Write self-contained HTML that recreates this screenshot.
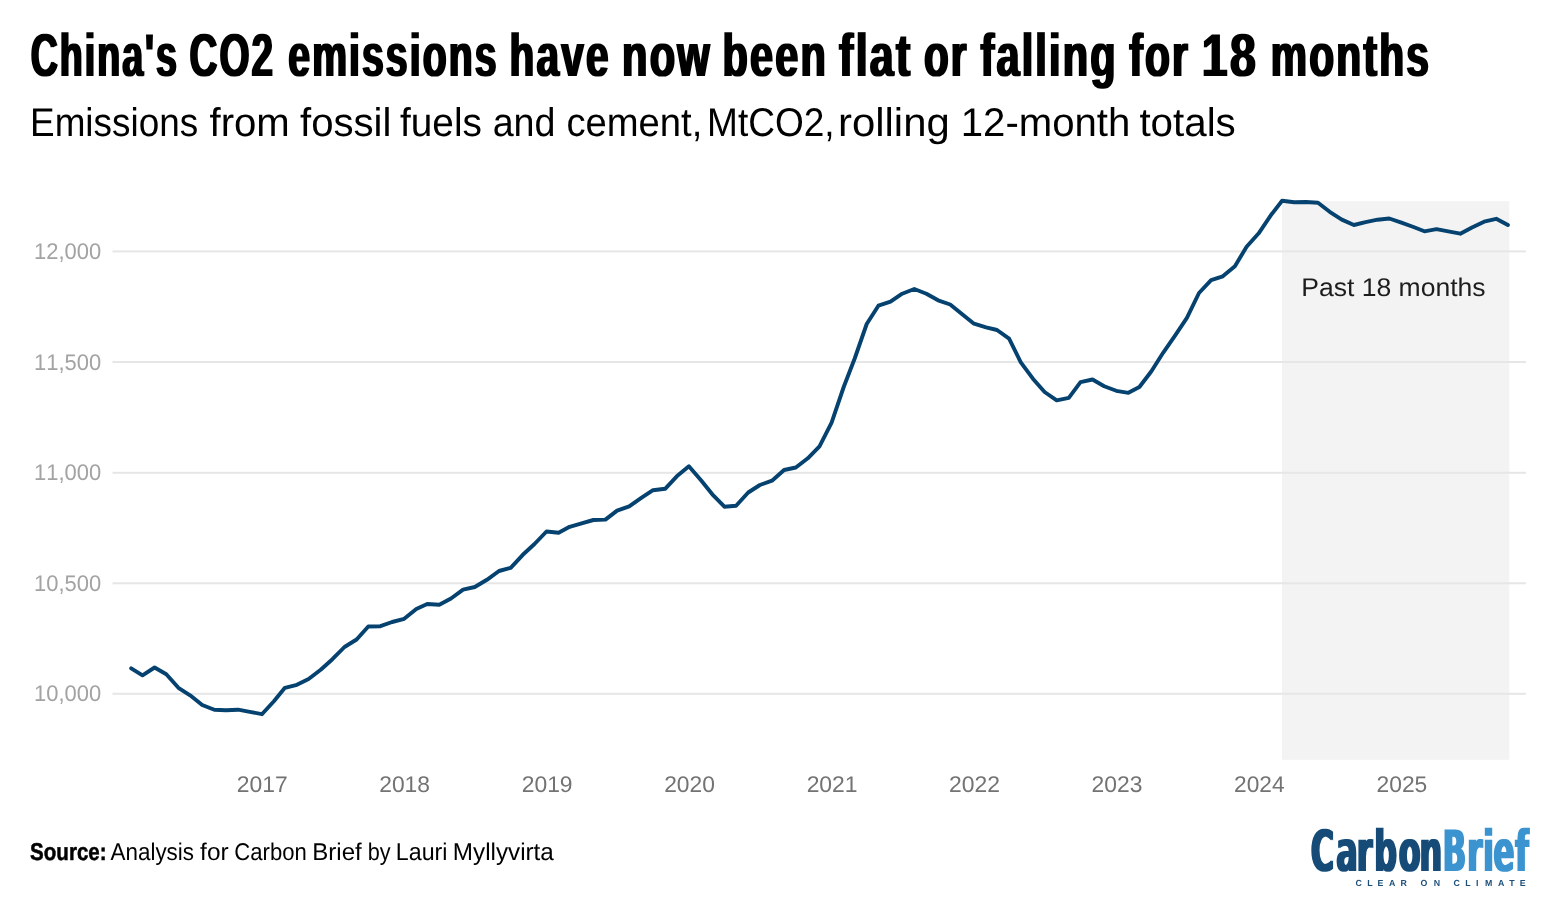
<!DOCTYPE html>
<html lang="en"><head><meta charset="utf-8"><title>China's CO2 emissions have now been flat or falling for 18 months</title>
<style>html,body{margin:0;padding:0;background:#fff}svg{display:block}text{font-kerning:none;font-variant-ligatures:none;text-rendering:geometricPrecision}</style></head>
<body>
<svg width="1560" height="922" viewBox="0 0 1560 922">
<defs><filter id="fat" x="-2%" y="-10%" width="104%" height="120%"><feMorphology operator="dilate" radius="1 0"/></filter></defs>
<rect width="1560" height="922" fill="#fff"/>
<g id="title" filter="url(#fat)">
<text transform="translate(30.75 75.70) scale(0.6208 1)" font-family='"Liberation Sans", sans-serif' font-size="60.5" font-weight="700" fill="#000" letter-spacing="3.2">China's</text>
<text transform="translate(189.45 75.70) scale(0.6387 1)" font-family='"Liberation Sans", sans-serif' font-size="60.5" font-weight="700" fill="#000" letter-spacing="3.2">CO2</text>
<text transform="translate(288.28 75.70) scale(0.6475 1)" font-family='"Liberation Sans", sans-serif' font-size="60.5" font-weight="700" fill="#000" letter-spacing="3.2">emissions</text>
<text transform="translate(509.51 75.70) scale(0.6711 1)" font-family='"Liberation Sans", sans-serif' font-size="60.5" font-weight="700" fill="#000" letter-spacing="3.2">have</text>
<text transform="translate(622.04 75.70) scale(0.6884 1)" font-family='"Liberation Sans", sans-serif' font-size="60.5" font-weight="700" fill="#000" letter-spacing="3.2">now</text>
<text transform="translate(722.56 75.70) scale(0.6853 1)" font-family='"Liberation Sans", sans-serif' font-size="60.5" font-weight="700" fill="#000" letter-spacing="3.2">been</text>
<text transform="translate(839.11 75.70) scale(0.7093 1)" font-family='"Liberation Sans", sans-serif' font-size="60.5" font-weight="700" fill="#000" letter-spacing="3.2">flat</text>
<text transform="translate(923.98 75.70) scale(0.6692 1)" font-family='"Liberation Sans", sans-serif' font-size="60.5" font-weight="700" fill="#000" letter-spacing="3.2">or</text>
<text transform="translate(980.38 75.70) scale(0.6854 1)" font-family='"Liberation Sans", sans-serif' font-size="60.5" font-weight="700" fill="#000" letter-spacing="3.2">falling</text>
<text transform="translate(1129.14 75.70) scale(0.6749 1)" font-family='"Liberation Sans", sans-serif' font-size="60.5" font-weight="700" fill="#000" letter-spacing="3.2">for</text>
<text transform="translate(1201.85 75.70) scale(0.7664 1)" font-family='"Liberation Sans", sans-serif' font-size="60.5" font-weight="700" fill="#000" letter-spacing="3.2">18</text>
<text transform="translate(1270.85 75.70) scale(0.6742 1)" font-family='"Liberation Sans", sans-serif' font-size="60.5" font-weight="700" fill="#000" letter-spacing="3.2">months</text>
</g>
<g id="subtitle">
<text transform="translate(30.05 136.00) scale(0.9220 1)" font-family='"Liberation Sans", sans-serif' font-size="40" fill="#000">Emissions</text>
<text transform="translate(209.50 136.00) scale(1.0026 1)" font-family='"Liberation Sans", sans-serif' font-size="40" fill="#000">from</text>
<text transform="translate(300.00 136.00) scale(1.0028 1)" font-family='"Liberation Sans", sans-serif' font-size="40" fill="#000">fossil</text>
<text transform="translate(400.02 136.00) scale(0.9697 1)" font-family='"Liberation Sans", sans-serif' font-size="40" fill="#000">fuels</text>
<text transform="translate(492.65 136.00) scale(0.9415 1)" font-family='"Liberation Sans", sans-serif' font-size="40" fill="#000">and</text>
<text transform="translate(566.38 136.00) scale(0.9551 1)" font-family='"Liberation Sans", sans-serif' font-size="40" fill="#000">cement,</text>
<text transform="translate(707.04 136.00) scale(0.9256 1)" font-family='"Liberation Sans", sans-serif' font-size="40" fill="#000">MtCO2,</text>
<text transform="translate(838.03 136.00) scale(1.0468 1)" font-family='"Liberation Sans", sans-serif' font-size="40" fill="#000">rolling</text>
<text transform="translate(960.74 136.00) scale(1.0034 1)" font-family='"Liberation Sans", sans-serif' font-size="40" fill="#000">12-month</text>
<text transform="translate(1139.40 136.00) scale(1.0080 1)" font-family='"Liberation Sans", sans-serif' font-size="40" fill="#000">totals</text>
</g>
<g id="chart">
<rect x="1282" y="201.2" width="227.3" height="558.6" fill="#f3f3f3"/>
<rect x="112.5" y="250.4" width="1413.5" height="2" fill="#e6e6e6"/>
<rect x="112.5" y="361.0" width="1413.5" height="2" fill="#e6e6e6"/>
<rect x="112.5" y="471.8" width="1413.5" height="2" fill="#e6e6e6"/>
<rect x="112.5" y="582.3" width="1413.5" height="2" fill="#e6e6e6"/>
<rect x="112.5" y="692.8" width="1413.5" height="2" fill="#e6e6e6"/>
<text transform="translate(34.05 259.00) scale(0.9707 1)" font-family='"Liberation Sans", sans-serif' font-size="22.6" fill="#a3a3a3">12,000</text>
<text transform="translate(34.05 369.60) scale(0.9707 1)" font-family='"Liberation Sans", sans-serif' font-size="22.6" fill="#a3a3a3">11,500</text>
<text transform="translate(34.05 480.40) scale(0.9707 1)" font-family='"Liberation Sans", sans-serif' font-size="22.6" fill="#a3a3a3">11,000</text>
<text transform="translate(34.05 590.90) scale(0.9707 1)" font-family='"Liberation Sans", sans-serif' font-size="22.6" fill="#a3a3a3">10,500</text>
<text transform="translate(34.05 701.40) scale(0.9707 1)" font-family='"Liberation Sans", sans-serif' font-size="22.6" fill="#a3a3a3">10,000</text>
<text transform="translate(236.76 791.70) scale(1.0132 1)" font-family='"Liberation Sans", sans-serif' font-size="22.6" fill="#737373">2017</text>
<text transform="translate(379.23 791.70) scale(1.0096 1)" font-family='"Liberation Sans", sans-serif' font-size="22.6" fill="#737373">2018</text>
<text transform="translate(521.70 791.70) scale(1.0120 1)" font-family='"Liberation Sans", sans-serif' font-size="22.6" fill="#737373">2019</text>
<text transform="translate(664.17 791.70) scale(1.0084 1)" font-family='"Liberation Sans", sans-serif' font-size="22.6" fill="#737373">2020</text>
<text transform="translate(806.64 791.70) scale(1.0132 1)" font-family='"Liberation Sans", sans-serif' font-size="22.6" fill="#737373">2021</text>
<text transform="translate(949.11 791.70) scale(1.0132 1)" font-family='"Liberation Sans", sans-serif' font-size="22.6" fill="#737373">2022</text>
<text transform="translate(1091.58 791.70) scale(1.0108 1)" font-family='"Liberation Sans", sans-serif' font-size="22.6" fill="#737373">2023</text>
<text transform="translate(1234.06 791.70) scale(1.0037 1)" font-family='"Liberation Sans", sans-serif' font-size="22.6" fill="#737373">2024</text>
<text transform="translate(1376.52 791.70) scale(1.0096 1)" font-family='"Liberation Sans", sans-serif' font-size="22.6" fill="#737373">2025</text>
<polyline fill="none" stroke="#05426f" stroke-width="3.9" stroke-linejoin="round" stroke-linecap="round" points="131.2,668.3 142.5,675.3 154.6,667.5 166.3,674.2 178.4,687.8 190.1,695.3 202.2,705.0 214.3,709.8 226.0,710.2 238.1,709.7 249.8,711.8 261.9,714.2 273.9,701.2 284.9,687.8 296.9,684.8 308.6,679.0 320.7,669.7 332.4,659.2 344.5,647.0 356.6,639.5 368.3,626.5 380.4,626.2 392.1,622.0 404.2,618.8 416.3,609.0 427.2,604.0 439.3,604.7 451.0,598.5 463.1,589.7 474.8,587.0 486.9,579.8 499.0,571.0 510.7,567.8 522.8,554.8 534.5,544.0 546.5,531.5 558.6,532.7 569.6,526.8 581.6,523.3 593.4,520.0 605.4,519.6 617.1,510.6 629.2,506.3 641.3,497.8 653.0,490.2 665.1,488.8 676.8,476.3 688.9,466.3 701.0,480.2 712.3,494.3 724.4,506.7 736.1,505.8 748.2,492.5 759.9,485.0 772.0,480.7 784.1,470.0 795.8,467.5 807.8,458.3 819.5,446.3 831.6,422.6 843.7,387.0 854.7,358.5 866.7,324.0 878.4,305.7 890.5,301.7 902.2,293.7 914.3,289.0 926.4,293.7 938.1,300.3 950.2,304.5 961.9,314.0 974.0,323.7 986.1,327.3 997.0,330.0 1009.1,338.7 1020.8,362.3 1032.9,378.7 1044.6,392.0 1056.7,400.3 1068.8,397.8 1080.5,382.2 1092.5,379.5 1104.2,386.2 1116.3,390.8 1128.4,392.8 1139.4,387.0 1151.4,371.2 1163.1,352.8 1175.2,335.3 1186.9,317.9 1199.0,293.0 1211.1,280.2 1222.8,276.3 1234.9,266.3 1246.6,246.7 1258.7,233.3 1270.8,215.3 1282.1,200.8 1294.2,202.3 1305.9,202.0 1318.0,202.8 1329.7,211.8 1341.8,219.6 1353.9,225.0 1365.6,222.1 1377.6,219.7 1389.3,218.5 1401.4,222.6 1413.5,227.0 1424.4,231.3 1436.5,229.1 1448.2,231.3 1460.3,233.7 1472.0,227.5 1484.1,221.7 1496.2,218.8 1507.9,225.0"/>
<text transform="translate(1301.18 295.50) scale(1.0371 1)" font-family='"Liberation Sans", sans-serif' font-size="25.6" fill="#1d1d1d">Past 18 months</text>
</g>
<g id="footer">
<text transform="translate(30.08 859.70) scale(0.8500 1)" font-family='"Liberation Sans", sans-serif' font-size="24.2" font-weight="700" fill="#000" stroke="#000" stroke-width="0.5">Source:</text>
<text transform="translate(110.60 859.70) scale(0.9256 1)" font-family='"Liberation Sans", sans-serif' font-size="24.2" fill="#000">Analysis</text>
<text transform="translate(200.09 859.70) scale(1.0099 1)" font-family='"Liberation Sans", sans-serif' font-size="24.2" fill="#000">for</text>
<text transform="translate(234.29 859.70) scale(0.9133 1)" font-family='"Liberation Sans", sans-serif' font-size="24.2" fill="#000">Carbon</text>
<text transform="translate(312.27 859.70) scale(0.9947 1)" font-family='"Liberation Sans", sans-serif' font-size="24.2" fill="#000">Brief</text>
<text transform="translate(367.65 859.70) scale(0.8951 1)" font-family='"Liberation Sans", sans-serif' font-size="24.2" fill="#000">by</text>
<text transform="translate(395.84 859.70) scale(0.9590 1)" font-family='"Liberation Sans", sans-serif' font-size="24.2" fill="#000">Lauri</text>
<text transform="translate(452.86 859.70) scale(1.0018 1)" font-family='"Liberation Sans", sans-serif' font-size="24.2" fill="#000">Myllyvirta</text>
</g>
<g id="logo">
<g filter="url(#fat)">
<text transform="translate(0 871.00) scale(0.5586 1)" x="2346.53 2391.97 2428.74 2460.31 2503.86 2540.96" font-family='"DejaVu Sans", sans-serif' font-size="57" font-weight="700" fill="#134b78">Carbon</text>
<text transform="translate(0 871.00) scale(0.5386 1)" x="2678.63 2723.99 2753.82 2773.01 2813.34" font-family='"DejaVu Sans", sans-serif' font-size="57" font-weight="700" fill="#3a93d0">Brief</text>
</g>
<text text-anchor="middle" y="886" x="1358.7 1369.9 1380.5 1392.1 1403.8 1413.5 1423.9 1436.9 1446.5 1456.7 1468.0 1477.3 1488.6 1501.2 1512.0 1522.8" font-family='"Liberation Sans", sans-serif' font-weight="700" font-size="8.8" fill="#1d4f7b">CLEAR ON CLIMATE</text>
</g>
</svg>
</body></html>
